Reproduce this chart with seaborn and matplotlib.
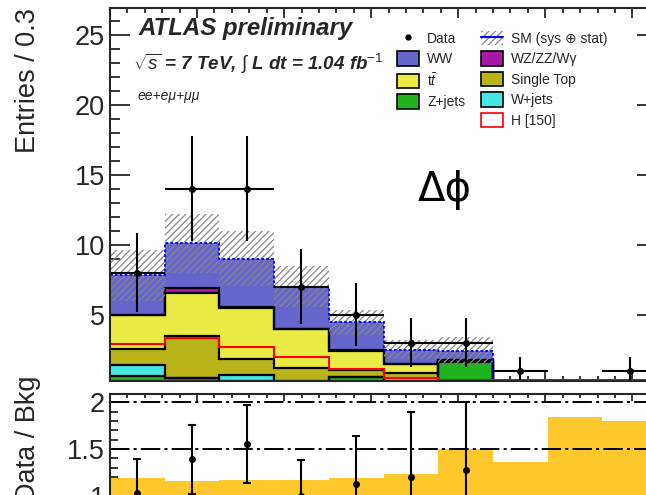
import numpy as np
import pandas as pd
import matplotlib
matplotlib.use("Agg")
import matplotlib.pyplot as plt
import seaborn as sns
from matplotlib.patches import Patch
from matplotlib.lines import Line2D
from matplotlib.ticker import MultipleLocator, FuncFormatter

# ---------------- data ----------------
n_bins = 10
x_max = np.pi
processes = ["WW", "WZ/ZZ/W\u03b3", "t$\\bar{t}$", "Single Top", "W+jets", "Z+jets"]
ww         = [2.82, 3.21, 3.45, 3.02, 2.00, 1.02, 0.59, 0.12, 0.08, 0.08]
wz         = [0.05, 0.30, 0.05, 0.05, 0.03, 0.03, 0.02, 0.01, 0.00, 0.00]
ttbar      = [2.38, 3.12, 3.65, 2.78, 1.35, 0.60, 0.10, 0.05, 0.02, 0.02]
single_top = [1.15, 3.00, 1.20, 0.90, 0.50, 0.70, 0.05, 0.03, 0.02, 0.02]
wjets      = [0.80, 0.00, 0.40, 0.10, 0.00, 0.05, 0.00, 0.00, 0.00, 0.00]
zjets      = [0.60, 0.45, 0.25, 0.15, 0.55, 0.10, 1.60, 0.02, 0.02, 0.02]
higgs      = [2.86, 3.30, 2.70, 1.93, 1.14, 0.50, 0.30, 0.30, 0.30, 0.30]
data       = [8, 14, 14, 7, 5, 3, 3, 1, 0, 1]
sm_unc     = [1.80, 2.10, 1.95, 1.45, 0.90, 0.65, 1.00, 0.15, 0.10, 0.10]
ratio_band = [1.19, 1.16, 1.17, 1.17, 1.19, 1.23, 1.50, 1.36, 1.84, 1.80]
ratio_lines = [0.5, 1.5, 2.0]

colors = {"WW": "#6666CC", "WZ/ZZ/W\u03b3": "#A818A8", "t$\\bar{t}$": "#EBEB45",
          "Single Top": "#B9B419", "W+jets": "#44E6E6", "Z+jets": "#1DB41D"}

# ---------------- style ----------------
sns.set_style("ticks")
plt.rcParams["font.family"] = ["Liberation Sans", "DejaVu Sans"]
plt.rcParams["mathtext.fontset"] = "custom"
plt.rcParams["mathtext.rm"] = "Liberation Sans"
plt.rcParams["mathtext.it"] = "Liberation Sans:italic"
plt.rcParams["mathtext.bf"] = "Liberation Sans:bold"
plt.rcParams["hatch.color"] = "#888888"
plt.rcParams["hatch.linewidth"] = 0.9
plt.rcParams["lines.scale_dashes"] = False

W, H = 646, 495
fig = plt.figure(figsize=(W / 100, H / 100), dpi=100)
fig.patch.set_facecolor("white")

def rect(l, t, r, b):
    return [l / W, 1 - b / H, (r - l) / W, (b - t) / H]

ax = fig.add_axes(rect(110, 8, 657, 381))
ax2 = fig.add_axes(rect(110, 394, 657, 552))

edges = np.linspace(0, x_max, n_bins + 1)
centers = 0.5 * (edges[:-1] + edges[1:])
half = 0.5 * (edges[1] - edges[0])

comp = {"WW": ww, "WZ/ZZ/W\u03b3": wz, "t$\\bar{t}$": ttbar, "Single Top": single_top,
        "W+jets": wjets, "Z+jets": zjets}
df = pd.DataFrame({
    "dphi": np.tile(centers, len(processes)),
    "entries": np.concatenate([comp[p] for p in processes]),
    "process": np.repeat(processes, n_bins),
})

sns.histplot(data=df, x="dphi", weights="entries", hue="process", hue_order=processes,
             multiple="stack", bins=list(edges), element="step", fill=True, alpha=1,
             palette=colors, linewidth=0, legend=False, ax=ax)

# black contours of the cumulative levels (below WW)
cum = np.zeros(n_bins)
for p in processes[::-1][:-1]:
    cum = cum + np.array(comp[p])
    ax.stairs(cum, edges, color="black", lw=1.6, baseline=None, zorder=3)
total = cum + np.array(ww)

# SM uncertainty band
unc = np.array(sm_unc)
ax.stairs(total + unc, edges, baseline=total - unc, fill=True, facecolor="none",
          edgecolor="#888888", hatch="/////", lw=0, zorder=4)
# SM total
ax.stairs(total, edges, color="blue", lw=1.3, ls=(0, (2.0, 1.5)), baseline=None, zorder=5)
# Higgs
ax.stairs(higgs, edges, color="red", lw=1.5, baseline=None, zorder=6)

# data
d = np.array(data, dtype=float)
m = d > 0
ax.errorbar(centers[m], d[m], yerr=np.sqrt(d[m]), xerr=half, fmt="o", color="black",
            ms=4, elinewidth=1.5, capsize=0, zorder=7)

ax.set_xlim(0, x_max)
ax.set_ylim(0.25, 26.9)
ax.set_xlabel("")
ax.set_ylabel("")
ax.xaxis.set_major_locator(MultipleLocator(0.5))
ax.xaxis.set_minor_locator(MultipleLocator(0.1))
ax.yaxis.set_major_locator(MultipleLocator(5))
ax.yaxis.set_minor_locator(MultipleLocator(1))
ax.yaxis.set_major_formatter(FuncFormatter(lambda v, p: "%g" % v if v > 0 else ""))
ax.tick_params(which="both", direction="in", top=True, right=True, bottom=True, left=True,
               labelbottom=False, labelsize=19.5, width=1.3, pad=3.5)
ax.tick_params(axis="y", which="major", length=14.4)
ax.tick_params(axis="y", which="minor", length=7.2)
ax.tick_params(axis="x", which="major", length=7.2)
ax.tick_params(axis="x", which="minor", length=3.6)
for s in ax.spines.values():
    s.set_linewidth(1.5)
    s.set_zorder(8)

# legend
h_data = Line2D([], [], marker="o", ls="none", color="black", ms=3.5)
h_blank = Patch(facecolor="none", edgecolor="none")
h_sm = (Patch(facecolor="none", edgecolor="#888888", hatch="/////", lw=0),
        Line2D([], [], color="blue", lw=1.5))
def box(c):
    return Patch(facecolor=c, edgecolor="black", lw=1.2)
handles = [h_data, box(colors["WW"]), box(colors["t$\\bar{t}$"]), box(colors["Z+jets"]), h_blank,
           h_sm, box(colors["WZ/ZZ/W\u03b3"]), box(colors["Single Top"]), box(colors["W+jets"]),
           Patch(facecolor="white", edgecolor="red", lw=1.2)]
labels = ["Data", "WW", "t$\\bar{t}$", "Z+jets", "",
          "SM (sys \u2295 stat)", "WZ/ZZ/W\u03b3", "Single Top", "W+jets", "H [150]"]
leg = ax.legend(handles, labels, ncol=2, loc="upper left",
                bbox_to_anchor=(397 / W, 1 - 31 / H), bbox_transform=fig.transFigure,
                frameon=False, fontsize=10, handlelength=1.58, handleheight=1.22,
                labelspacing=0.4, handletextpad=0.58, columnspacing=1.15, borderpad=0,
                borderaxespad=0)
leg.set_zorder(9)

# texts
fig.text(138 / W, 1 - 35 / H, "ATLAS preliminary", fontsize=17.3, fontweight="bold",
         style="italic", va="baseline")
fig.text(133 / W, 1 - 70 / H, "$\\sqrt{s}$ = 7 TeV, $\\int$ L dt = 1.04 fb$^{-1}$",
         fontsize=13.5, style="italic", fontweight="bold", va="baseline")
fig.text(138 / W, 1 - 100 / H, "ee+e\u03bc+\u03bc\u03bc", fontsize=10, style="italic",
         va="baseline")
fig.text(445 / W, 1 - 190 / H, "\u0394\u03d5", fontsize=29, ha="center", va="center",
         family=["DejaVu Sans"], color="black")
fig.text(28 / W, 1 - 8 / H, "Entries / 0.3", rotation=90, fontsize=19.5, ha="center", va="top")
fig.text(28 / W, 1 - 375 / H, "Data / Bkg", rotation=90, fontsize=19.5, ha="center", va="top")

# ratio panel
rb = np.array(ratio_band)
ax2.stairs(rb, edges, baseline=2 - rb, fill=True, color="#FFC82D", lw=0, zorder=1)
for yv in ratio_lines:
    ax2.axhline(yv, color="black", lw=1.4, ls=(0, (14, 3, 2.2, 3)), zorder=2)
ax2.axhline(1.0, color="red", lw=1.4, zorder=2)
rat = d / total
rerr = np.sqrt(d) / total
rm = m & (rat < 2.087)
ax2.errorbar(centers[rm], rat[rm], yerr=rerr[rm], fmt="o", color="black", ms=4,
             elinewidth=1.5, capsize=3, capthick=1.5, zorder=3)
ax2.set_xlim(0, x_max)
ax2.set_ylim(0.4, 2.087)
ax2.xaxis.set_major_locator(MultipleLocator(0.5))
ax2.xaxis.set_minor_locator(MultipleLocator(0.1))
ax2.yaxis.set_major_locator(MultipleLocator(0.5))
ax2.yaxis.set_minor_locator(MultipleLocator(0.1))
ax2.yaxis.set_major_formatter(FuncFormatter(lambda v, p: "%g" % v))
ax2.tick_params(which="both", direction="in", top=True, right=True, bottom=True, left=True,
                labelbottom=False, labelsize=19.5, width=1.3, pad=3.5)
ax2.tick_params(axis="y", which="major", length=11.5)
ax2.tick_params(axis="y", which="minor", length=5.8)
ax2.tick_params(axis="x", which="major", length=5.0)
ax2.tick_params(axis="x", which="minor", length=2.8)
for s in ax2.spines.values():
    s.set_linewidth(1.5)
    s.set_zorder(8)

fig.savefig("out.png", dpi=100)
